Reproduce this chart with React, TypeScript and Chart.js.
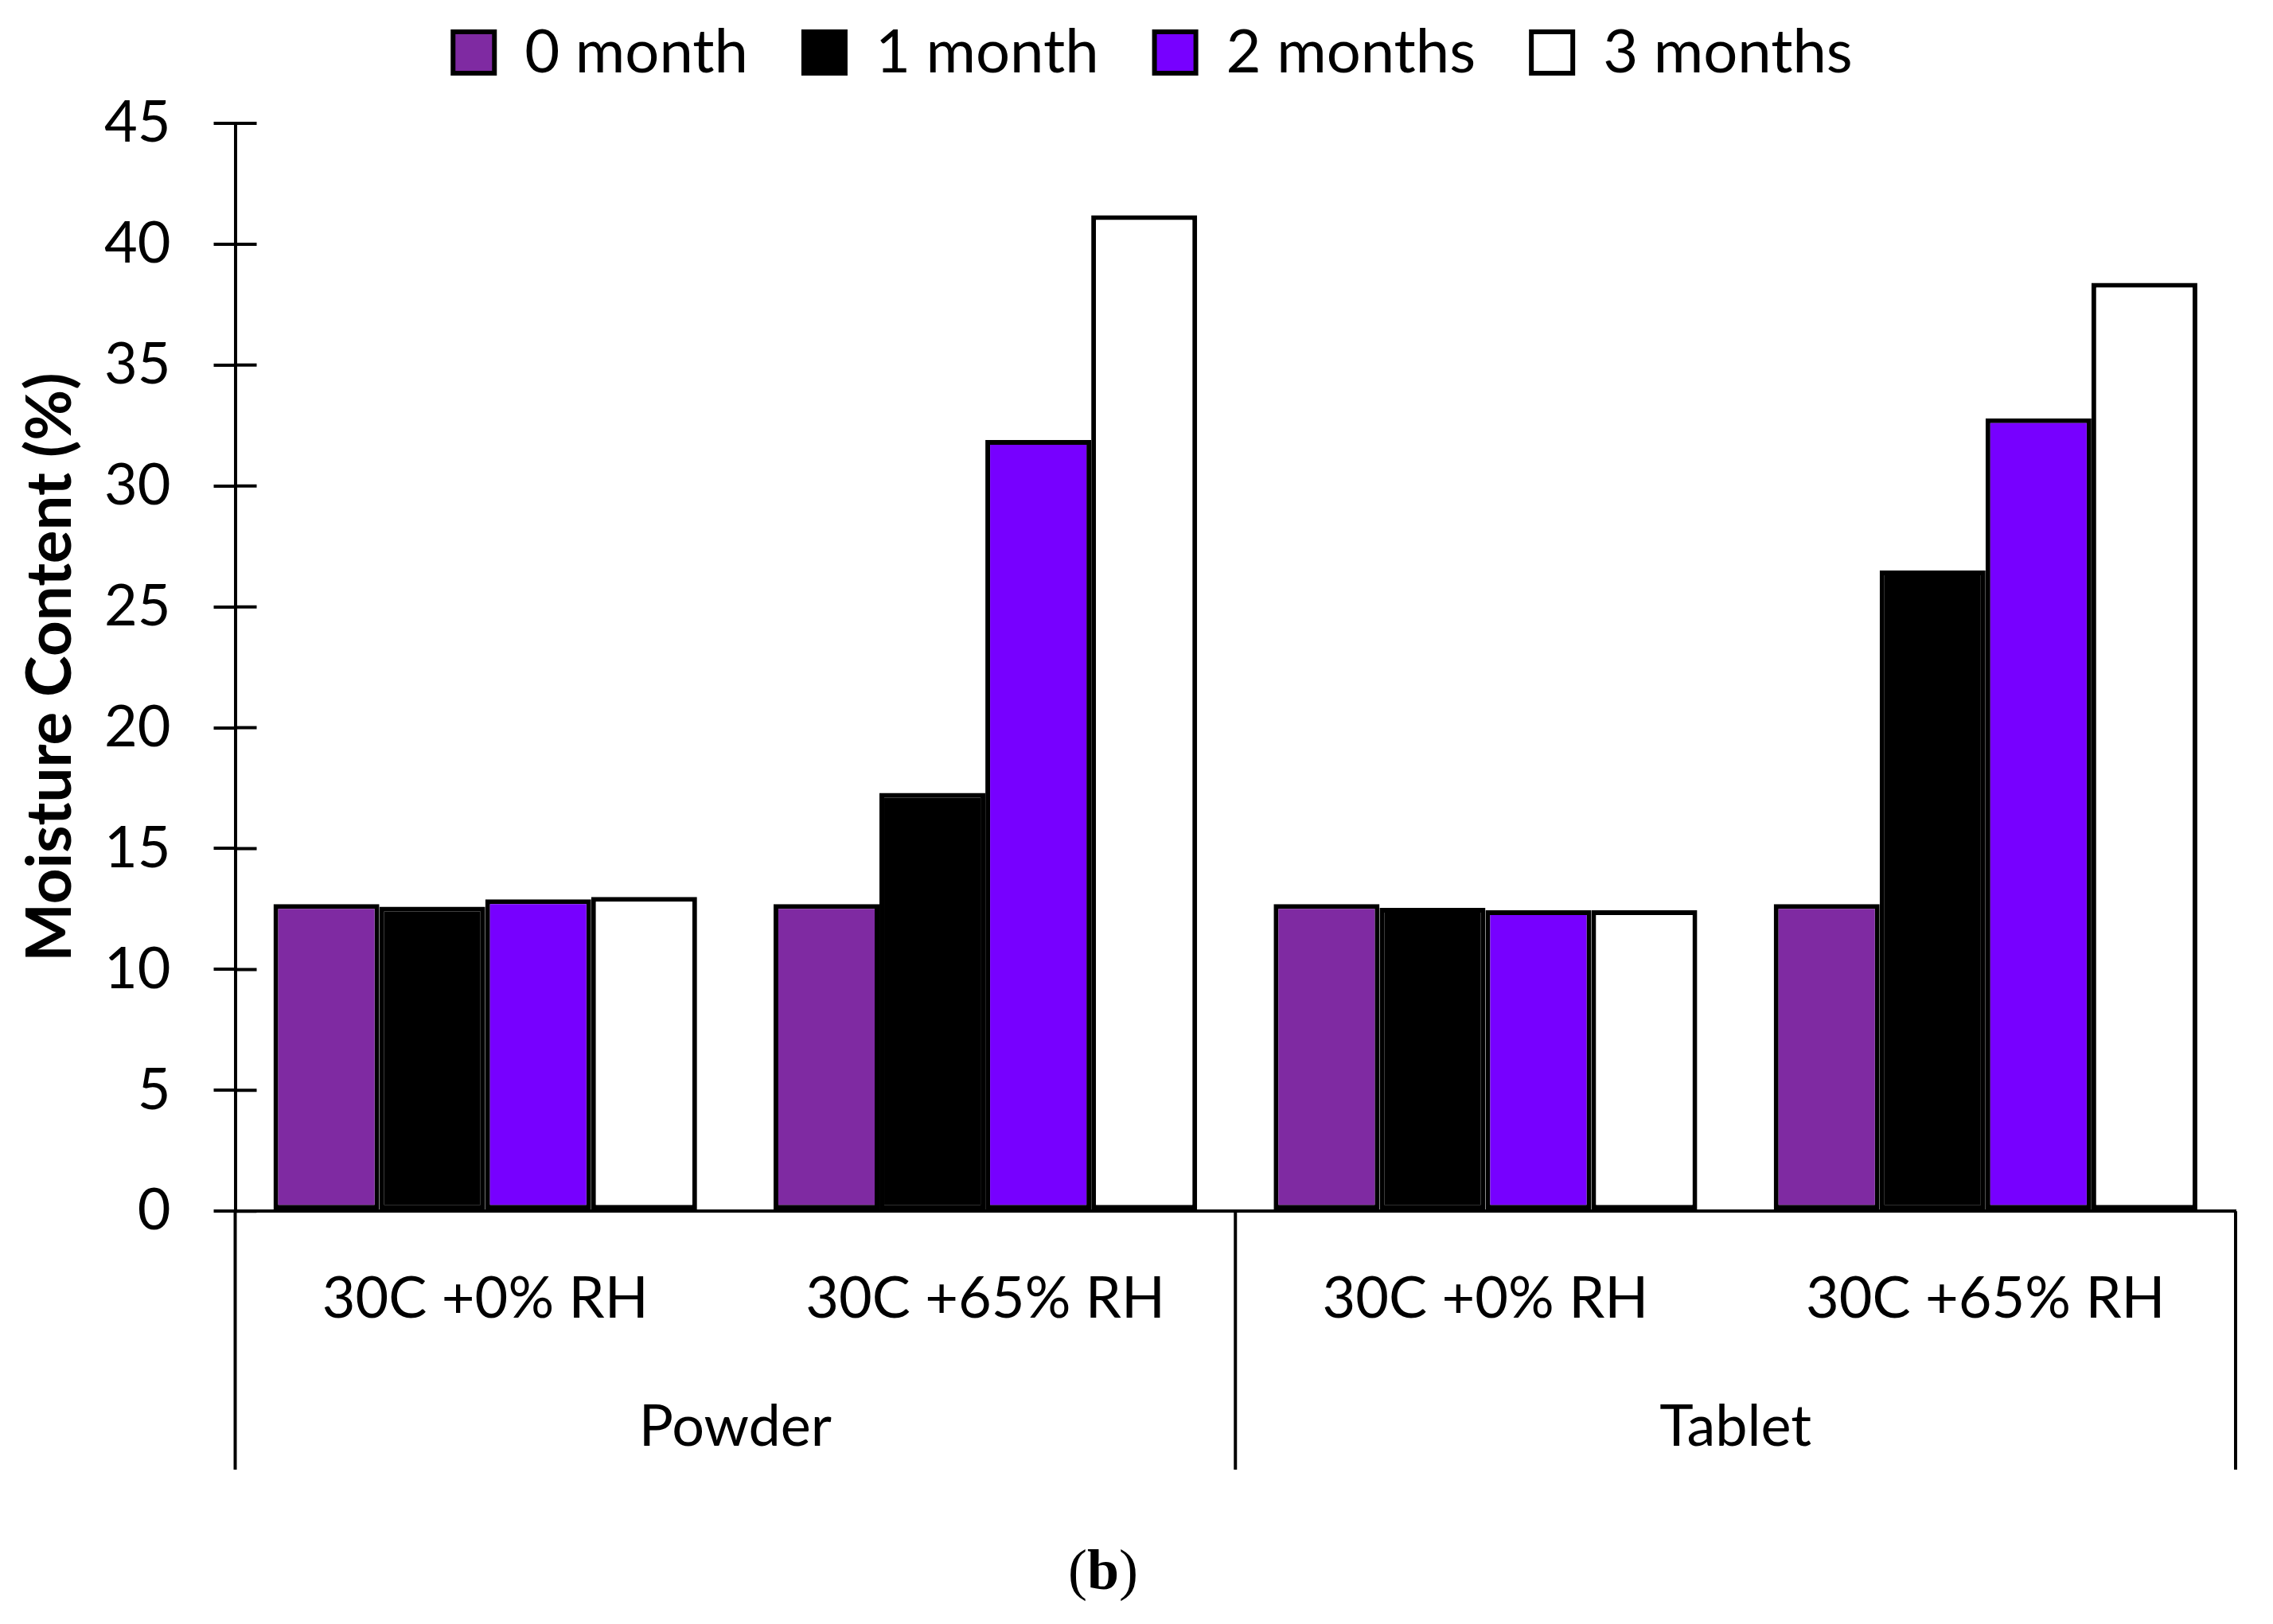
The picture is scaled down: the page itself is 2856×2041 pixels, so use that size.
import React, { useEffect, useRef } from 'react';
import Chart from 'chart.js/auto';

const conditions = ['30C +0% RH', '30C +65% RH', '30C +0% RH', '30C +65% RH'];
const forms = ['Powder', 'Tablet'];
const seriesNames = ['0 month', '1 month', '2 months', '3 months'];
const month0 = [12.7, 12.7, 12.7, 12.7];
const month1 = [12.6, 17.3, 12.55, 26.5];
const month2 = [12.9, 31.9, 12.45, 32.8];
const month3 = [13.0, 41.2, 12.45, 38.4];
const yMax = 45;
const yStep = 5;

const colors = ['#7F2AA2', '#000000', '#7700FF', '#FFFFFF'];
const FONT = 'Lato, "Open Sans", sans-serif';

// draws the inner half of the y ticks and the separators of the grouped x labels
const axisMarks = {
  id: 'axisMarks',
  afterDraw(chart: any) {
    const { ctx, chartArea, scales } = chart;
    const y = scales.y;
    const x2 = scales.x2;
    ctx.save();
    ctx.strokeStyle = '#000';
    ctx.lineWidth = 4;
    ctx.beginPath();
    y.ticks.forEach((_t: any, i: number) => {
      const py = y.getPixelForTick(i);
      ctx.moveTo(chartArea.left, py);
      ctx.lineTo(chartArea.left + 27, py);
    });
    const mid = (x2.getPixelForValue(0) + x2.getPixelForValue(1)) / 2;
    [chartArea.left, mid, chartArea.right].forEach((px) => {
      ctx.moveTo(px, chartArea.bottom);
      ctx.lineTo(px, x2.bottom + 2);
    });
    ctx.stroke();
    ctx.restore();
  },
};

const MoistureChart: React.FC = () => {
  const chartRef = useRef<HTMLCanvasElement>(null);

  useEffect(() => {
    if (!chartRef.current) return;
    document.body.style.margin = '0';
    document.body.style.overflow = 'hidden';

    const values = [month0, month1, month2, month3];
    const chart = new Chart(chartRef.current, {
      type: 'bar',
      data: {
        labels: conditions,
        datasets: seriesNames.map((name, i) => ({
          label: name,
          data: values[i],
          backgroundColor: colors[i],
          borderColor: '#000',
          borderWidth: 6,
          borderSkipped: false,
          categoryPercentage: 0.847,
          barPercentage: 1.0,
          xAxisID: 'x',
        })),
      },
      options: {
        responsive: false,
        devicePixelRatio: 1,
        animation: false,
        layout: { padding: { top: -42, left: 88, right: 47, bottom: 196 } },
        plugins: {
          legend: {
            position: 'top',
            labels: {
              color: '#000',
              font: { family: FONT, size: 76 },
              boxWidth: 52,
              boxHeight: 52,
              padding: 70,
            },
          },
          tooltip: { enabled: false },
        },
        scales: {
          // empty band between the legend and the plot top
          xTop: {
            type: 'category',
            position: 'top',
            display: true,
            grid: { display: false, drawTicks: false },
            border: { display: false },
            ticks: { display: false },
            afterFit: (s: any) => {
              s.height = 41;
            },
          },
          x: {
            type: 'category',
            position: 'bottom',
            weight: 0,
            offset: true,
            grid: { display: false, drawTicks: false },
            border: { display: true, color: '#000', width: 4 },
            ticks: { color: '#000', font: { family: FONT, size: 72 }, padding: 67, maxRotation: 0, autoSkip: false },
          },
          x2: {
            type: 'category',
            position: 'bottom',
            weight: 1,
            labels: forms,
            offset: true,
            grid: { display: false, drawTicks: false },
            border: { display: false },
            ticks: { color: '#000', font: { family: FONT, size: 72 }, padding: 8, maxRotation: 0 },
          },
          y: {
            min: 0,
            max: yMax,
            ticks: { stepSize: yStep, color: '#000', font: { family: FONT, size: 72 }, padding: 54 },
            grid: { display: true, drawOnChartArea: false, drawTicks: true, tickLength: 27, color: '#000', lineWidth: 4 },
            border: { display: true, color: '#000', width: 4 },
            title: {
              display: true,
              text: 'Moisture Content (%)',
              color: '#000',
              font: { family: FONT, size: 78, weight: 'bold' },
              padding: { top: -70.8, bottom: -33.8 },
            },
          },
        },
      },
      plugins: [axisMarks],
    });

    return () => chart.destroy();
  }, []);

  return (
    <div style={{ position: 'relative', width: 2856, height: 2041, background: '#fff' }}>
      <canvas ref={chartRef} width={2856} height={2041} style={{ display: 'block' }}></canvas>
      <div
        style={{
          position: 'absolute',
          left: 1286,
          width: 200,
          top: 1928,
          textAlign: 'center',
          fontFamily: '"Liberation Serif", serif',
          fontSize: 72,
          lineHeight: '90px',
          color: '#000',
        }}
      >
        (<b>b</b>)
      </div>
    </div>
  );
};

export default function App() {
  return <MoistureChart />;
}
